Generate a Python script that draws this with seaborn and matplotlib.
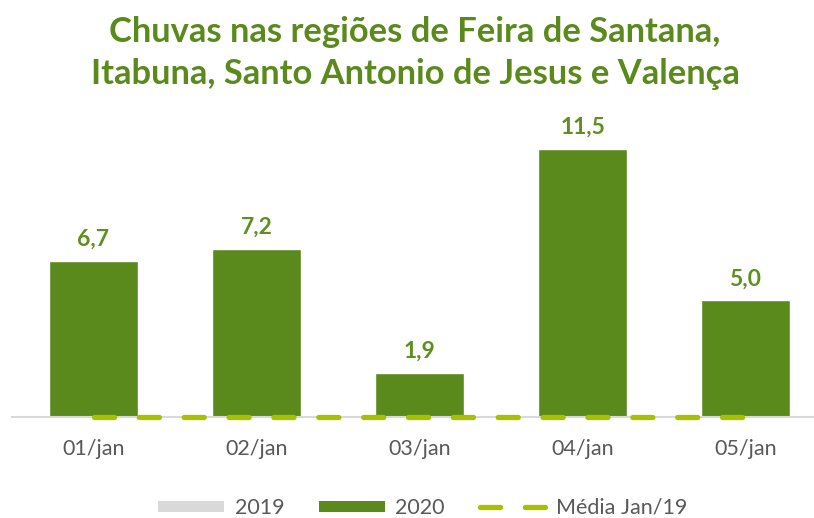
import matplotlib
matplotlib.use("Agg")
import matplotlib.pyplot as plt
import seaborn as sns
import numpy as np
import pandas as pd
from matplotlib.patches import Patch
from matplotlib.lines import Line2D

# ---- data ----
dias = ["01/jan", "02/jan", "03/jan", "04/jan", "05/jan"]
chuva_2019 = [0, 0, 0, 0, 0]
chuva_2020 = [6.7, 7.2, 1.9, 11.5, 5.0]
media_jan19 = [0, 0, 0, 0, 0]
titulo = "Chuvas nas regiões de Feira de Santana,\nItabuna, Santo Antonio de Jesus e Valença"

GREEN = "#5B8A1C"
LABEL_GREEN = "#5E9020"
LIME = "#A8C000"
GRAY_TXT = "#595959"
AXIS_GRAY = "#D9D9D9"

sns.set_theme(style="white")
plt.rcParams["font.family"] = ["Lato", "DejaVu Sans"]

fig = plt.figure(figsize=(8.14, 5.18), dpi=100)
W, H = 814, 518
left_px, right_px = 12, 827
bottom_px = 417
px_per_unit = 23.3
ymax = 13.0
ax = fig.add_axes([left_px / W, (H - bottom_px) / H,
                   (right_px - left_px) / W, ymax * px_per_unit / H])

df = pd.DataFrame({"dia": dias, "v": chuva_2020})
sns.barplot(data=df, x="dia", y="v", color=GREEN, saturation=1, width=0.546,
            ax=ax, zorder=2)

df_m = pd.DataFrame({"x": np.arange(len(dias)), "m": media_jan19})
sns.lineplot(data=df_m, x="x", y="m", ax=ax, color=LIME, lw=3.8,
             dashes=False, zorder=4, clip_on=False)
ln = ax.lines[-1]
ln.set_dashes((3.8, 4.7))
ln.set_dash_capstyle("round")

labels = [f"{v:.1f}".replace(".", ",") for v in chuva_2020]
ax.bar_label(ax.containers[0], labels=labels, padding=8, color=LABEL_GREEN,
             fontsize=16.5, fontweight="bold")

ax.set_xlim(-0.5, len(dias) - 0.5)
ax.set_ylim(0, ymax)
ax.set_yticks([])
ax.set_xlabel("")
ax.set_ylabel("")
for s in ["top", "right", "left"]:
    ax.spines[s].set_visible(False)
ax.spines["bottom"].set_color(AXIS_GRAY)
ax.spines["bottom"].set_linewidth(1.5)
ax.spines["bottom"].set_zorder(3)

ax.set_xticks(np.arange(len(dias)))
ax.set_xticklabels(dias)
ax.tick_params(axis="x", which="major", length=0, pad=16, labelsize=15.5,
               labelcolor=GRAY_TXT)
ax.set_xticks(np.arange(len(dias) + 1) - 0.5, minor=True)
ax.tick_params(axis="x", which="minor", length=6.5, width=1.5, color=AXIS_GRAY,
               direction="out")

fig.text(415 / W, 1 - 53 / H, titulo, ha="center", va="center",
         fontsize=24.8, fontweight="bold", color=GREEN, linespacing=1.38)

handles = [
    Patch(facecolor=AXIS_GRAY, edgecolor="none", label="2019"),
    Patch(facecolor=GREEN, edgecolor="none", label="2020"),
    Line2D([0], [0], color=LIME, lw=3.8, dashes=(3.8, 4.7),
           dash_capstyle="round", label="Média Jan/19"),
]
leg = fig.legend(handles=handles, loc="center", bbox_to_anchor=(423 / W, 1 - 508 / H),
                 ncol=3, frameon=False, fontsize=15.5, handlelength=3.07,
                 handleheight=0.42, handletextpad=0.47, columnspacing=1.63,
                 labelcolor=GRAY_TXT)

fig.savefig("out.png", dpi=100)
